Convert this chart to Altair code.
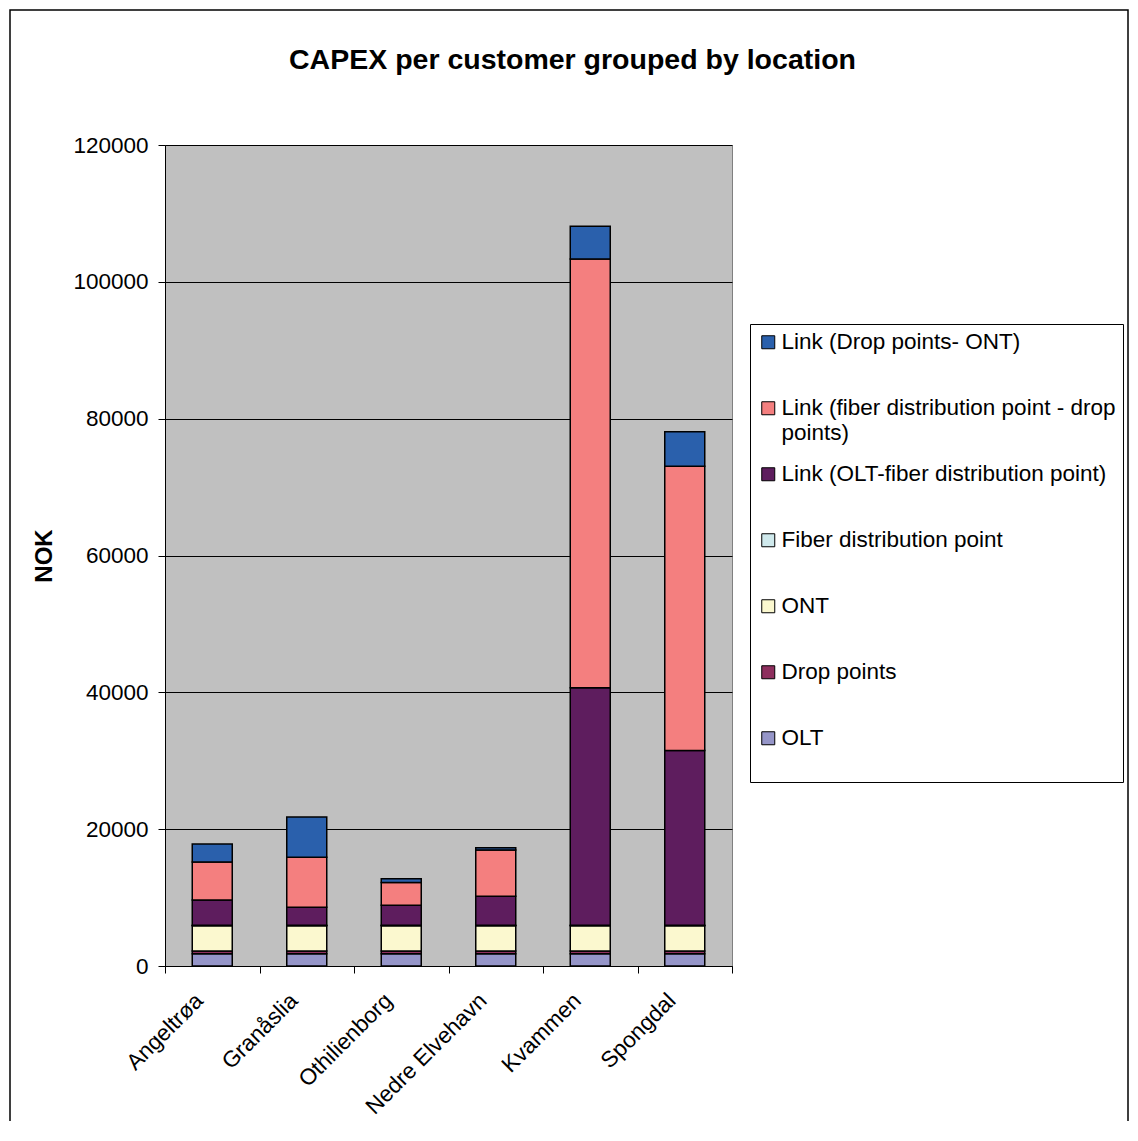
import altair as alt
import pandas as pd

locations = ["Angeltrøa", "Granåslia", "Othilienborg", "Nedre Elvehavn", "Kvammen", "Spongdal"]
series = [
    "OLT",
    "Drop points",
    "ONT",
    "Fiber distribution point",
    "Link (OLT-fiber distribution point)",
    "Link (fiber distribution point - drop points)",
    "Link (Drop points- ONT)",
]
colors = ["#9595c8", "#8e2f5e", "#fbf8cf", "#cfe9ec", "#5e1d5e", "#f47f7f", "#2a60ac"]

olt = [1800, 1800, 1800, 1800, 1800, 1800]
drop_points = [400, 400, 400, 400, 400, 400]
ont = [3700, 3700, 3700, 3700, 3700, 3700]
fiber_dp = [50, 50, 50, 50, 50, 50]
link_olt_fdp = [3690, 2630, 2920, 4230, 34720, 25560]
link_fdp_drop = [5550, 7300, 3320, 6770, 62680, 41540]
link_drop_ont = [2630, 5890, 580, 350, 4760, 5030]

values = [olt, drop_points, ont, fiber_dp, link_olt_fdp, link_fdp_drop, link_drop_ont]

rows = []
for si, (name, vals) in enumerate(zip(series, values)):
    for loc, v in zip(locations, vals):
        rows.append({"location": loc, "series": name, "order": si, "value": v})
df = pd.DataFrame(rows)

FONT = "Liberation Sans"

label_expr = ("datum.label == 'Link (fiber distribution point - drop points)' ? "
              "['Link (fiber distribution point - drop', 'points)'] : [datum.label, '']")

bars = alt.Chart(df).mark_bar(size=40, stroke="black", strokeWidth=1.5).encode(
    x=alt.X(
        "location:N",
        sort=locations,
        scale=alt.Scale(paddingInner=0, paddingOuter=0),
        axis=alt.Axis(
            title=None,
            labelAngle=-45,
            labelFontSize=22.5,
            labelFont=FONT,
            labelColor="black",
            labelPadding=16,
            labelOffset=-21,
            tickBand="extent",
            tickColor="black",
            tickSize=7,
            domainColor="black",
            grid=False,
        ),
    ),
    y=alt.Y(
        "value:Q",
        stack="zero",
        scale=alt.Scale(domain=[0, 120000], nice=False),
        axis=alt.Axis(
            values=[0, 20000, 40000, 60000, 80000, 100000, 120000],
            format="d",
            grid=True,
            gridColor="black",
            gridWidth=1,
            tickColor="black",
            tickSize=7,
            domainColor="black",
            labelFontSize=22.5,
            labelFont=FONT,
            labelColor="black",
            labelPadding=10,
            title="NOK",
            titleFont=FONT,
            titleFontSize=24,
            titleFontWeight="bold",
            titleColor="black",
            titlePadding=16,
        ),
    ),
    color=alt.Color(
        "series:N",
        scale=alt.Scale(domain=series[::-1], range=colors[::-1]),
        legend=alt.Legend(
            orient="none",
            legendX=585,
            legendY=179,
            title=None,
            symbolType="square",
            symbolSize=169,
            symbolStrokeColor="black",
            symbolStrokeWidth=1,
            labelFont=FONT,
            labelFontSize=22.5,
            labelColor="black",
            labelLimit=500,
            labelOffset=2,
            labelExpr=label_expr,
            rowPadding=18,
            padding=7,
            strokeColor="black",
            fillColor="white",
        ),
    ),
    order=alt.Order("order:Q", sort="ascending"),
)

border = alt.Chart(pd.DataFrame({"a": [0]})).mark_rect(
    filled=False, stroke="black", strokeWidth=1.5, clip=False
).encode(
    x=alt.value(-155), x2=alt.value(963), y=alt.value(-135), y2=alt.value(1000)
)

chart = alt.layer(border, bars).properties(
    width=567,
    height=821,
    padding={"left": 157, "top": 137, "right": 398, "bottom": 155},
    autosize=alt.AutoSizeParams(type="none"),
    background="white",
    title=alt.TitleParams(
        "CAPEX per customer grouped by location",
        font=FONT,
        fontSize=28.5,
        fontWeight="bold",
        color="black",
        anchor="middle",
        frame="group",
        baseline="alphabetic",
        dx=124,
        offset=-88,
    ),
).configure_view(fill="#c0c0c0", stroke="#808080")

chart.save("out.html", embed_options={"renderer": "svg", "actions": False})
